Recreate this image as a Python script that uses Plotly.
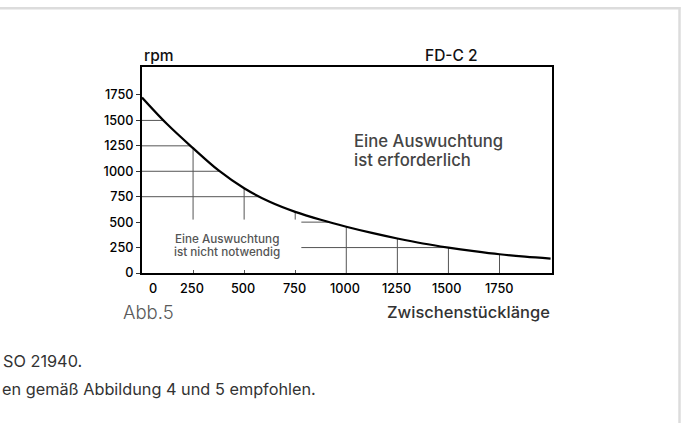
import numpy as np
import plotly.graph_objects as go

# ---- data ----
length_mm = [0, 125, 250, 375, 500, 625, 750, 875, 1000, 1125, 1250, 1375, 1500, 1625, 1750, 1875, 2000]
rpm_limit = [1725, 1459, 1227, 1008, 833, 700, 601, 523, 455, 394, 339, 290, 250, 215, 184, 161, 142]
x_ticks = [0, 250, 500, 750, 1000, 1250, 1500, 1750]
y_ticks = [0, 250, 500, 750, 1000, 1250, 1500, 1750]
x_tick_labels = [str(v) for v in x_ticks]
y_tick_labels = [str(v) for v in y_ticks]
# white label area in lower-left (data units) where the grid is left out
box_x, box_y = 780, 525

W, H = 686, 423
L, R, T, B = 142, 134, 67, 150
PW, PH = W - L - R, H - T - B


def px(x):
    return (x - L) / PW


def py(y):
    return (T + PH - y) / PH


FONT = "Inter"

fig = go.Figure()
fig.add_trace(go.Scatter(
    x=length_mm, y=rpm_limit, mode="lines",
    line=dict(color="black", width=2.2, shape="spline", smoothing=1.0),
    hoverinfo="skip", showlegend=False))

shapes = []
xs = np.array(length_mm, float)
ys = np.array(rpm_limit, float)
grid_style = dict(color="#555", width=1)
# horizontal grid segments from axis (or box edge) to curve
for v in y_ticks[1:-1]:
    x_end = float(np.interp(v, ys[::-1], xs[::-1]))
    x_start = 0 if v > box_y else box_x
    if x_end > x_start:
        shapes.append(dict(type="line", xref="x", yref="y", x0=x_start, x1=x_end,
                           y0=v, y1=v, line=grid_style, layer="below"))
# vertical grid segments from axis (or box edge) up to curve
for u in x_ticks[1:]:
    y_end = float(np.interp(u, xs, ys))
    y_start = 0 if u > box_x else box_y
    if y_end > y_start:
        shapes.append(dict(type="line", xref="x", yref="y", x0=u, x1=u,
                           y0=y_start, y1=y_end, line=grid_style, layer="below"))

# page border lines (light gray)
shapes.append(dict(type="line", xref="paper", yref="paper", x0=px(0), x1=px(680.5),
                   y0=py(8.3), y1=py(8.3), line=dict(color="#dcdcdc", width=2.5)))
shapes.append(dict(type="line", xref="paper", yref="paper", x0=px(679.5), x1=px(679.5),
                   y0=py(7), y1=py(430), line=dict(color="#dcdcdc", width=2.5)))

ann = []


def add_text(text, x, y, size, color="black", xanchor="left", weight=400, xref="paper", xshift=0):
    ann.append(dict(text=text, x=x, y=y, xref=xref, yref="paper", xanchor=xanchor,
                    yanchor="middle", showarrow=False, xshift=xshift,
                    font=dict(family=FONT, size=size, color=color, weight=weight)))


add_text("rpm", px(141.5), py(55), 15.5, "#111", "left", 500)
add_text("FD-C 2", px(479.5), py(55), 15.5, "#111", "right", 500)
add_text("Eine Auswuchtung", px(351.5), py(141), 16.7, "#444", "left", 500)
add_text("ist erforderlich", px(351.5), py(160), 16.7, "#444", "left", 500)
add_text("Eine Auswuchtung", px(226.5), py(239.3), 11.7, "#555", "center", 500)
add_text("ist nicht notwendig", px(226.5), py(251.7), 11.7, "#555", "center", 500)
add_text("Abb.5", px(121), py(312), 18.5, "#5a5a5a", "left", 300)
add_text("Zwischenstücklänge", px(552), py(312), 16.5, "#333", "right", 500)
add_text("SO 21940.", px(1), py(361), 16.3, "#333", "left", 400)
add_text("en gemäß Abbildung 4 und 5 empfohlen.", px(0), py(389), 16.3, "#333", "left", 400)

for v, lab in zip(x_ticks, x_tick_labels):
    add_text(lab, v, py(288), 12.7, "black", "center", 500, xref="x",
             xshift=11 if v == 0 else -1)

fig.update_layout(
    width=W, height=H,
    margin=dict(l=L, r=R, t=T, b=B, pad=0),
    paper_bgcolor="white", plot_bgcolor="white",
    showlegend=False,
    shapes=shapes, annotations=ann,
    font=dict(family=FONT, color="black"),
    xaxis=dict(range=[0, 2007], showline=True, linewidth=2, linecolor="black", mirror=True,
               ticks="inside", ticklen=3, tickwidth=1, tickcolor="#555",
               tickvals=x_ticks[1:4], showticklabels=False,
               showgrid=False, zeroline=False, fixedrange=True),
    yaxis=dict(range=[0, 2025], showline=True, linewidth=2, linecolor="black", mirror=True,
               ticks="outside", ticklen=4, tickwidth=1, tickcolor="#333",
               tickvals=y_ticks, ticktext=y_tick_labels,
               tickfont=dict(family=FONT, size=12.7, color="black", weight=500),
               showgrid=False, zeroline=False, fixedrange=True),
)

fig.write_html("out.html", config={"displayModeBar": False},
               post_script="document.body.style.margin='0';document.body.style.overflow='hidden';")
